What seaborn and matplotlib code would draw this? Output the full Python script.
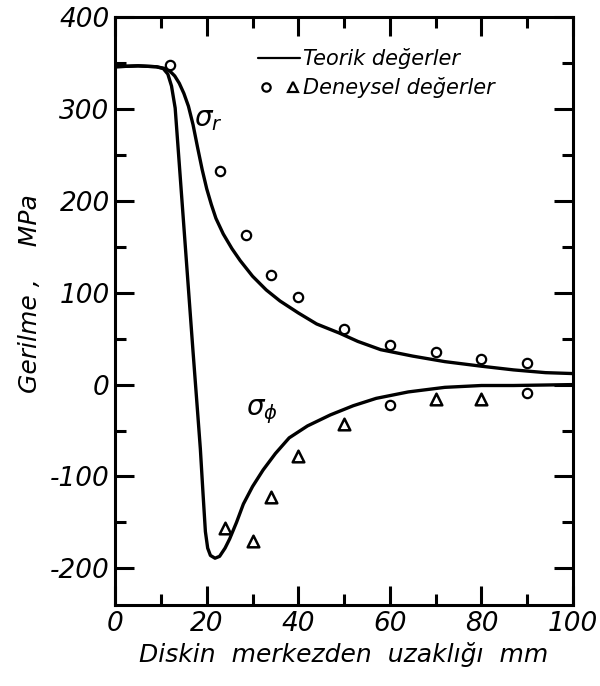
import numpy as np
import pandas as pd
import seaborn as sns
import matplotlib.pyplot as plt
from matplotlib.lines import Line2D
from matplotlib.legend_handler import HandlerTuple

# theoretical curves
sr_x = [0, 5, 9, 10, 11, 12, 13, 14, 15, 16, 17, 18, 19, 20, 21, 22, 23.6, 25.5, 27.3, 30, 33, 36,
        40, 44, 49, 53, 58, 65, 72, 80, 87, 94, 100]
sr_y = [346, 347, 346, 345, 344, 341, 336, 328, 317, 303, 283, 258, 234, 213, 196, 181, 164, 148, 135, 118, 103, 91,
        78, 66, 56, 47, 38, 31, 25, 20, 16, 13, 12]

sp_x = [0, 5, 9, 10.5, 11.5, 12.3, 13.1, 14, 15, 16, 17, 18, 18.6, 19.2, 19.7, 20.2, 20.8, 21.8,
        22.8, 24, 25, 26.5, 28, 30, 32.3, 35, 38, 42, 47, 52, 57, 64, 72, 80, 87, 100]
sp_y = [346, 347, 346, 344, 338, 325, 301, 240, 172, 104, 36, -30, -70, -120, -160, -178, -186, -189,
        -187, -178, -168, -150, -130, -111, -93, -75, -58, -45, -33, -23, -15, -8, -3, -1, -1, 0]

# experimental points
circ_x = [12, 23, 28.5, 34, 40, 50, 60, 70, 80, 90, 60, 90]
circ_y = [348, 232, 163, 119, 95, 61, 43, 35, 28, 24, -22, -9]
tri_x = [24, 30, 34, 40, 50, 70, 80]
tri_y = [-156, -170, -122, -78, -43, -16, -16]

x_ticks = [0, 20, 40, 60, 80, 100]
y_ticks = [-200, -100, 0, 100, 200, 300, 400]

sns.set_style("ticks")
plt.rcParams['font.family'] = ['DejaVu Sans']
plt.rcParams['font.style'] = 'italic'
plt.rcParams['mathtext.fontset'] = 'dejavusans'
plt.rcParams['axes.unicode_minus'] = False
for k in ['text.color', 'axes.labelcolor', 'xtick.color', 'ytick.color', 'axes.edgecolor']:
    plt.rcParams[k] = 'black'

fig = plt.figure(figsize=(6, 6.86), dpi=100)
ax = fig.add_axes([0.192, 0.118, 0.763, 0.857])

lw = 2.4
sns.lineplot(x=sr_x, y=sr_y, ax=ax, color='black', linewidth=lw, sort=False, estimator=None)
sns.lineplot(x=sp_x, y=sp_y, ax=ax, color='black', linewidth=lw, sort=False, estimator=None)
sns.scatterplot(x=circ_x, y=circ_y, ax=ax, marker='o', s=45, facecolor='white',
                edgecolor='black', linewidth=1.6, zorder=5)
sns.scatterplot(x=tri_x, y=tri_y, ax=ax, marker='^', s=70, facecolor='white',
                edgecolor='black', linewidth=1.8, zorder=5)

ax.set_xlim(0, 100)
ax.set_ylim(-240, 400)
ax.set_xticks(x_ticks)
ax.set_yticks(y_ticks)
ax.set_xticks(np.arange(10, 100, 20), minor=True)
ax.set_yticks(np.arange(-150, 400, 100), minor=True)
ax.tick_params(which='major', direction='in', length=14, width=2.2, labelsize=19,
               top=True, right=True, pad=4)
ax.tick_params(which='minor', direction='in', length=8, width=2.2, top=True, right=True)
for lab in ax.get_xticklabels() + ax.get_yticklabels():
    lab.set_fontstyle('italic')
for sp in ax.spines.values():
    sp.set_linewidth(2.2)
    sp.set_visible(True)

ax.set_xlabel('Diskin  merkezden  uzaklığı  mm', fontsize=18, style='italic', labelpad=4)
ax.set_ylabel('Gerilme ,    MPa', fontsize=18, style='italic', labelpad=10)
ax.yaxis.set_label_coords(-0.16, 0.53)

ax.text(20.3, 289, r'$\sigma_r$', fontsize=20, ha='center', va='center')
ax.text(32, -29, r'$\sigma_\phi$', fontsize=20, ha='center', va='center')

h_line = Line2D([], [], color='black', linewidth=1.6)
h_c = Line2D([], [], marker='o', linestyle='none', markersize=6, markerfacecolor='white',
             markeredgecolor='black', markeredgewidth=1.6)
h_t = Line2D([], [], marker='^', linestyle='none', markersize=7, markerfacecolor='white',
             markeredgecolor='black', markeredgewidth=1.6)
ax.legend([h_line, (h_c, h_t)], ['Teorik değerler', 'Deneysel değerler'],
          handler_map={tuple: HandlerTuple(ndivide=None, pad=0.6)},
          loc='upper left', bbox_to_anchor=(0.29, 0.965), frameon=False,
          prop={'size': 15, 'style': 'italic'}, handlelength=2.0, handletextpad=0.15,
          labelspacing=0.4, borderpad=0)

fig.savefig('out.png', dpi=100)
